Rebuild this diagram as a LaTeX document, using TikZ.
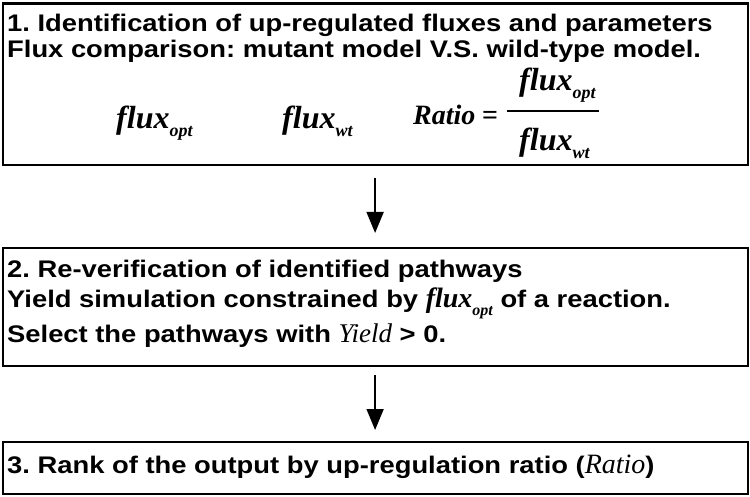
\documentclass[tikz,border=0pt]{standalone}
\usepackage{fontspec}
\setmainfont{Liberation Sans}
\newfontfamily\wide[FakeStretch=1.14]{Liberation Sans}
\newfontfamily\tms{Liberation Serif}
\usetikzlibrary{arrows.meta}
\frenchspacing
\newcommand\flx[4]{{\fontsize{#1}{#1}\selectfont\tms\bfseries\itshape flux}\raisebox{#4}{\fontsize{#2}{#2}\selectfont\tms\bfseries\itshape #3}}
\begin{document}
\begin{tikzpicture}[x=1pt,y=-1pt,
  box/.style={draw=black,line width=2.2pt,inner sep=0pt,minimum width=745pt,anchor=north west},
  txt/.style={anchor=base west,inner sep=0pt,font=\fontsize{24}{26}\selectfont\wide\bfseries},
  mth/.style={anchor=base west,inner sep=0pt,font=\fontsize{28}{30}\selectfont\tms\bfseries\itshape},
  flow/.style={line width=1.6pt,-{Triangle[length=21pt,width=17pt]}}]
\useasboundingbox (0,0) rectangle (750,497);
% boxes
\node[box,minimum height=161.5pt] (b1) at (1.5,2.5) {};
\node[box,minimum height=118pt] (b2) at (1.5,247) {};
\node[box,minimum height=52pt] (b3) at (1.5,441) {};
% box 1 text
\node[txt] (t11) at (7,32) {1. Identification of up-regulated fluxes and parameters};
\node[txt] (t12) at (7,58) {Flux comparison: mutant model V.S. wild-type model.};
\node[mth] (m1) at (116,129) {\flx{32}{18}{opt}{-8pt}};
\node[mth] (m2) at (282,129) {\flx{32}{18}{wt}{-8pt}};
\node[mth] (m3) at (413,125) {Ratio};
\node[anchor=base west,inner sep=0pt,font=\fontsize{28}{30}\selectfont\tms\bfseries] (eq) at (482,125) {=};
\node[mth] (num) at (519,91) {\flx{32}{18}{opt}{-8pt}};
\node[mth] (den) at (519,151) {\flx{32}{18}{wt}{-8pt}};
\coordinate (fl) at (507,111);
\coordinate (fr) at (599,111);
\draw[line width=1.3pt] (fl) -- (fr);
% box 2 text
\node[txt] (t21) at (7,278) {2. Re-verification of identified pathways};
\node[txt] (t22) at (7,307) {Yield simulation constrained by \flx{28}{16}{opt}{-8pt} of a reaction.};
\node[txt] (t23) at (7,342) {Select the pathways with {\fontsize{27}{27}\selectfont\tms\mdseries\itshape Yield} > 0.};
% box 3 text
\node[txt] (t31) at (7,473) {3. Rank of the output by up-regulation ratio ({\fontsize{28}{28}\selectfont\tms\mdseries\itshape Ratio})};
% arrows
\draw[flow] ([yshift=-12pt]b1.south) -- ([yshift=14pt]b2.north);
\draw[flow] ([yshift=-8pt]b2.south) -- ([yshift=11pt]b3.north);
\end{tikzpicture}
\end{document}
